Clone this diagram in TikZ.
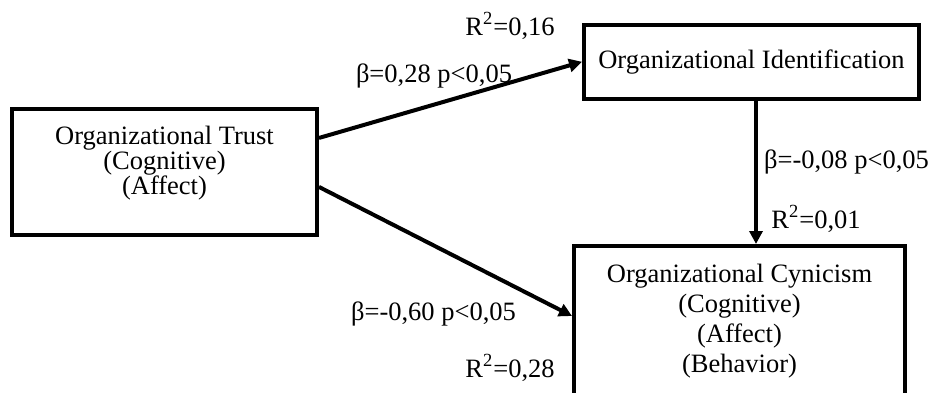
\documentclass[tikz,border=0pt]{standalone}
\usepackage{fontspec}
\setmainfont{Liberation Serif}
\usetikzlibrary{arrows.meta}
\begin{document}
\begin{tikzpicture}[x=0.5pt,y=-0.5pt,
    box/.style={draw,line width=2pt,inner sep=0pt},
    txt/.style={align=center,inner sep=0pt,font=\fontsize{13.25}{#1}\selectfont},
    txt/.default=15,
    path/.style={line width=2pt,-{Triangle[length=6.5pt,width=6.5pt]}}]
  \useasboundingbox (0,0) rectangle (931,392);
  \node[box,minimum width=152.5pt,minimum height=62.75pt] (trust) at (164.5,171.75) {};
  \node[txt=12.6] (trusttext) at (164.5,163) {Organizational Trust\\(Cognitive)\\(Affect)};
  \node[box,txt,minimum width=167.5pt,minimum height=37.25pt] (ident) at (751.5,61.75) {Organizational Identification};
  \node[box,minimum width=165.5pt,minimum height=75pt] (cyn) at (739.5,321) {};
  \node[txt] (cyntext) at (739.5,321) {Organizational Cynicism\\(Cognitive)\\(Affect)\\(Behavior)};
  \coordinate (idbot) at ([xshift=2.25pt]ident.south);
  \draw[path] ([yshift=16.9pt]trust.east) -- (ident.west);
  \draw[path] ([yshift=-7.6pt]trust.east) -- ([yshift=-36pt]cyn.north west);
  \draw[path] (idbot) -- (idbot |- cyn.north);
  % coefficients
  \node[txt,anchor=base] (r1) at (510,35) {R\textsuperscript{2}=0,16};
  \node[txt,anchor=base] (b1) at (434,82) {β=0,28 p<0,05};
  \node[txt,anchor=base] (b2) at (846.5,168) {β=-0,08 p<0,05};
  \node[txt,anchor=base] (r2) at (816,228) {R\textsuperscript{2}=0,01};
  \node[txt,anchor=base] (b3) at (433.5,320) {β=-0,60 p<0,05};
  \node[txt,anchor=base] (r3) at (510,377) {R\textsuperscript{2}=0,28};
\end{tikzpicture}
\end{document}
